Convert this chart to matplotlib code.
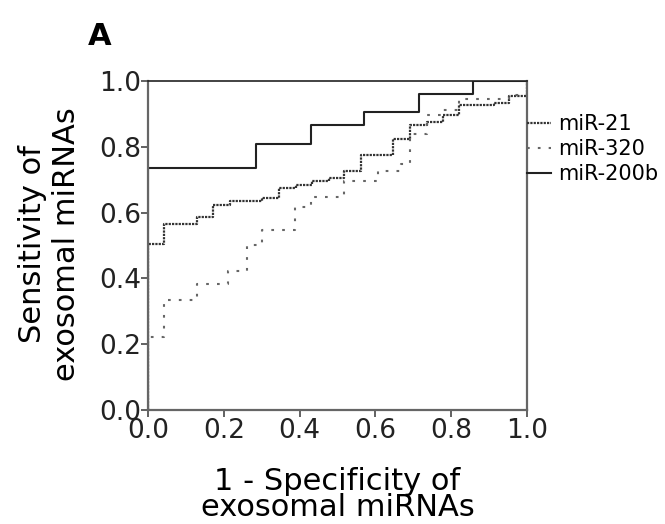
import matplotlib
matplotlib.use("Agg")
import matplotlib.pyplot as plt

plt.rcParams['font.family'] = ['DejaVu Sans']

# ROC step data (1 - specificity, sensitivity)
mir21_fpr = [0, 0, 0.042, 0.13, 0.172, 0.216, 0.30, 0.346, 0.391, 0.432, 0.477, 0.518,
             0.562, 0.647, 0.691, 0.735, 0.779, 0.821, 0.913, 0.953, 1.0, 1.0]
mir21_tpr = [0, 0.505, 0.564, 0.586, 0.623, 0.634, 0.645, 0.675, 0.684, 0.695, 0.705, 0.727,
             0.775, 0.825, 0.866, 0.876, 0.896, 0.926, 0.934, 0.955, 0.96, 1.0]

mir320_fpr = [0, 0, 0.042, 0.128, 0.211, 0.26, 0.302, 0.389, 0.43, 0.517, 0.606, 0.668,
              0.691, 0.737, 0.779, 0.821, 0.953, 1.0, 1.0]
mir320_tpr = [0, 0.222, 0.333, 0.384, 0.424, 0.503, 0.548, 0.616, 0.648, 0.695, 0.727, 0.748,
              0.838, 0.898, 0.911, 0.946, 0.958, 0.965, 1.0]

mir200b_fpr = [0, 0, 0.286, 0.429, 0.571, 0.714, 0.857, 1.0]
mir200b_tpr = [0, 0.735, 0.81, 0.866, 0.905, 0.96, 1.0, 1.0]

series_labels = ["miR-21", "miR-320", "miR-200b"]
ticks = [0.0, 0.2, 0.4, 0.6, 0.8, 1.0]
tick_labels = ["0.0", "0.2", "0.4", "0.6", "0.8", "1.0"]

fig = plt.figure(figsize=(6.65, 5.24), dpi=100)
ax = fig.add_axes([148/665, (524-410)/524, (527-148)/665, (410-81)/524])

ax.step(mir21_fpr, mir21_tpr, where='post', color='#333333', lw=1.6,
        dashes=(1.0, 0.5), label=series_labels[0])
ax.step(mir320_fpr, mir320_tpr, where='post', color='#666666', lw=1.5,
        dashes=(1.3, 3.9), label=series_labels[1])
ax.step(mir200b_fpr, mir200b_tpr, where='post', color='#222222', lw=1.5,
        label=series_labels[2])

ax.set_xlim(0, 1)
ax.set_ylim(0, 1)
ax.set_xticks(ticks)
ax.set_xticklabels(tick_labels)
ax.set_yticks(ticks)
ax.set_yticklabels(tick_labels)
ax.tick_params(axis='both', labelsize=19, length=5, width=1.3, color='#555555',
               labelcolor='#222222')
ax.tick_params(axis='y', pad=0)
ax.tick_params(axis='x', pad=1)
for s in ['left', 'bottom', 'right']:
    ax.spines[s].set_color('#666666')
    ax.spines[s].set_linewidth(1.6)
ax.spines['top'].set_color('#222222')
ax.spines['top'].set_linewidth(1.2)

ax.set_xlabel("1 - Specificity of\nexosomal miRNAs", fontsize=22, linespacing=0.86)
ax.set_ylabel("Sensitivity of\nexosomal miRNAs", fontsize=22, linespacing=1.2)
ax.xaxis.set_label_coords(0.5, (410 - 467) / 329)
ax.yaxis.set_label_coords((81 - 148) / 379, 0.505)

leg = ax.legend(loc='upper left', bbox_to_anchor=(1.0, 0.9), frameon=False, fontsize=15,
                handlelength=1.15, handletextpad=0.35, labelspacing=0.25,
                borderpad=0, borderaxespad=0)

fig.text(88/665, 1 - 45/524, "A", fontsize=22, fontweight='bold', ha='left', va='baseline')

fig.savefig("out.png", dpi=100)
